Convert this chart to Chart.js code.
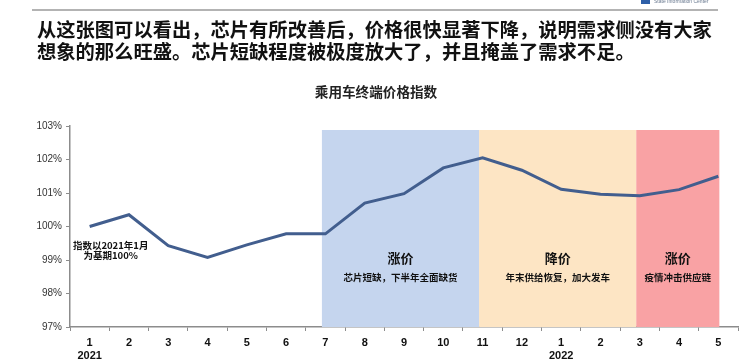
<!DOCTYPE html>
<html><head><meta charset="utf-8">
<script src="https://cdn.jsdelivr.net/npm/chart.js@4"></script>
<style>
html,body{margin:0;padding:0;background:#fff;}
#wrap{position:relative;width:752px;height:363px;overflow:hidden;}
#c{position:absolute;left:0;top:0;z-index:0;}
.hd{position:absolute;z-index:2;left:37px;font:bold 19.3px "Noto Sans CJK SC";color:#111;white-space:nowrap;line-height:22px;}
#logo{position:absolute;z-index:2;left:641px;top:-3px;width:9px;height:7px;background:#2e5fa8;}
#logotxt{position:absolute;z-index:2;left:654px;top:-2px;font:5px "Liberation Sans";color:#6a7a90;white-space:nowrap;}
#ttl{position:absolute;z-index:2;left:0;width:752px;top:81px;text-align:center;font:bold 13.6px "Noto Sans CJK SC";color:#222;}
</style></head><body>
<div id="wrap">
<canvas id="c" width="752" height="363"></canvas>
<div id="logo"></div><div id="logotxt">State Information Center</div>
<div class="hd" style="top:18px">从这张图可以看出，芯片有所改善后，价格很快显著下降，说明需求侧没有大家</div>
<div class="hd" style="top:40px">想象的那么旺盛。芯片短缺程度被极度放大了，并且掩盖了需求不足。</div>
<div id="ttl">乘用车终端价格指数</div>
</div>
<script>
const months = ['1','2','3','4','5','6','7','8','9','10','11','12','1','2','3','4','5'];
const years = {0:'2021', 12:'2022'};
const priceIndex = [100.0,100.35,99.43,99.08,99.45,99.78,99.78,100.7,100.98,101.75,102.05,101.68,101.11,100.96,100.92,101.1,101.5];
const yTicks = [97,98,99,100,101,102,103];
const bands = [
  {from:6, to:10, color:'rgb(197,213,238)', title:'涨价', note:'芯片短缺，下半年全面缺货'},
  {from:10, to:14, color:'rgb(253,229,196)', title:'降价', note:'年末供给恢复，加大发车'},
  {from:14, to:16, color:'rgb(249,162,164)', title:'涨价', note:'疫情冲击供应链'}
];
const baseNote = ['指数以2021年1月','为基期100%'];

const labels = months.map((m,i)=> years[i] ? [m, years[i]] : m);

const bandPlugin = {
  id:'bands',
  beforeDraw(chart){
    const ctx = chart.ctx;
    ctx.save();
    ctx.strokeStyle = '#9a9a9a';
    ctx.lineWidth = 1.5;
    ctx.beginPath(); ctx.moveTo(32, 10); ctx.lineTo(718, 10); ctx.stroke();
    ctx.restore();
  },
  beforeDatasetsDraw(chart){
    const {ctx, chartArea, scales:{x,y}} = chart;
    ctx.save();
    const top = chartArea.top + 4;
    bands.forEach((b,i)=>{
      const x0 = x.getPixelForValue(b.from) - 3.5;
      const x1 = x.getPixelForValue(b.to) + (i === bands.length-1 ? 1 : -3.5);
      ctx.fillStyle = b.color;
      ctx.fillRect(x0, top, x1-x0, chartArea.bottom - top);
      const cx = (x0+x1)/2;
      ctx.fillStyle = '#111';
      ctx.textAlign='center'; ctx.textBaseline='middle';
      ctx.font = 'bold 13px "Noto Sans CJK SC"';
      ctx.fillText(b.title, cx, y.getPixelForValue(99.05));
      ctx.font = 'bold 9.5px "Noto Sans CJK SC"';
      ctx.fillText(b.note, cx, y.getPixelForValue(98.47));
    });
    ctx.font = 'bold 9.5px "Noto Sans CJK SC"';
    ctx.fillStyle = '#111';
    ctx.textAlign='center'; ctx.textBaseline='middle';
    const nx = x.getPixelForValue(0) + 21;
    ctx.fillText(baseNote[0], nx, y.getPixelForValue(99.45));
    ctx.fillText(baseNote[1], nx, y.getPixelForValue(99.13));
    ctx.restore();
  }
};

new Chart(document.getElementById('c'), {
  type:'line',
  data:{labels, datasets:[{data:priceIndex, borderColor:'rgb(66,94,142)', borderWidth:3, pointRadius:0, tension:0, fill:false}]},
  options:{
    responsive:false, animation:false,
    layout:{padding:{top:126, right:14, left:0, bottom:0}},
    plugins:{legend:{display:false}, tooltip:{enabled:false}, title:{display:false}},
    scales:{
      x:{
        offset:true,
        grid:{display:true, drawOnChartArea:false, drawTicks:true, tickLength:4, color:'#8c8c8c', offset:true},
        border:{display:true, color:'#8c8c8c', width:1.5},
        ticks:{color:'#111', font:{family:'Liberation Sans', size:11, weight:'bold'}, maxRotation:0, autoSkip:false, padding:5},
        afterFit(s){ s.height = 36; }
      },
      y:{
        min:97, max:103,
        afterBuildTicks(s){ s.ticks = yTicks.map(v=>({value:v})); },
        grid:{display:true, drawOnChartArea:false, drawTicks:true, tickLength:4, color:'#8c8c8c'},
        border:{display:true, color:'#8c8c8c', width:1.5},
        ticks:{color:'#333', font:{family:'Liberation Sans', size:10}, padding:4, callback:v=>v+'%'},
        afterFit(s){ s.width = 70; }
      }
    }
  },
  plugins:[bandPlugin]
});
</script>
</body></html>
